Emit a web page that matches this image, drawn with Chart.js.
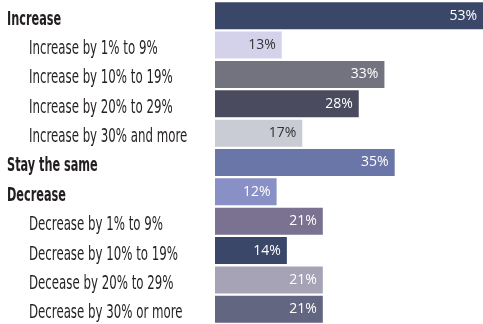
<!DOCTYPE html>
<html>
<head>
<meta charset="utf-8">
<script src="https://cdn.jsdelivr.net/npm/chart.js@4.4.1/dist/chart.umd.min.js"></script>
<style>
  html, body { margin: 0; padding: 0; background: #fff; }
  #wrap { width: 483px; height: 324px; position: relative; }
</style>
</head>
<body>
<div id="wrap"><canvas id="barchart"></canvas></div>
<script>
var categories = ['Increase', 'Increase by 1% to 9%', 'Increase by 10% to 19%', 'Increase by 20% to 29%',
    'Increase by 30% and more', 'Stay the same', 'Decrease', 'Decrease by 1% to 9%',
    'Decrease by 10% to 19%', 'Decease by 20% to 29%', 'Decrease by 30% or more'];
var values = [53, 13, 33, 28, 17, 35, 12, 21, 14, 21, 21];
var headers = [true, false, false, false, false, true, true, false, false, false, false];
var barColors = ['#3b4769', '#d4d2ea', '#72737f', '#4b4b5f', '#c9cbd5', '#6a76a7',
    '#8890c6', '#7a7290', '#3b4769', '#a5a3b5', '#636681'];
var labelColors = ['#fff', '#333', '#fff', '#fff', '#333', '#fff', '#fff', '#fff', '#fff', '#fff', '#fff'];

// left side category text, squeezed to look like the condensed original face
var categoryText = {
    id: 'categoryText',
    afterDraw: function(chart) {
        var ctx = chart.ctx;
        var yScale = chart.scales.y;
        ctx.save();
        ctx.fillStyle = '#231f20';
        ctx.textBaseline = 'middle';
        ctx.textAlign = 'left';
        categories.forEach(function(label, i) {
            var y = yScale.getPixelForTick(i) + 4;
            var x = headers[i] ? 7 : 29;
            ctx.font = (headers[i] ? 'bold ' : '') + '19px "Liberation Sans Narrow", "DejaVu Sans Condensed", sans-serif';
            ctx.save();
            ctx.translate(x, y);
            ctx.scale(headers[i] ? 0.66 : 0.69, 1);
            ctx.fillText(label, 0, 0);
            ctx.restore();
        });
        ctx.restore();
    }
};

// percentage labels inside the bar ends
var valueLabels = {
    id: 'valueLabels',
    afterDatasetsDraw: function(chart) {
        var ctx = chart.ctx;
        var meta = chart.getDatasetMeta(0);
        var right = chart.chartArea.right;
        ctx.save();
        ctx.font = '14px "Open Sans", sans-serif';
        ctx.textAlign = 'right';
        ctx.textBaseline = 'middle';
        meta.data.forEach(function(bar, i) {
            ctx.fillStyle = labelColors[i];
            ctx.fillText(values[i] + '%', Math.min(bar.x, right) - 6, bar.y);
        });
        ctx.restore();
    }
};

var myChart = new Chart(document.getElementById('barchart'), {
    type: 'bar',
    data: {
        labels: categories,
        datasets: [{
            data: values,
            backgroundColor: barColors,
            borderWidth: 0,
            barPercentage: 0.92,
            categoryPercentage: 1
        }]
    },
    options: {
        indexAxis: 'y',
        responsive: true,
        maintainAspectRatio: false,
        animation: false,
        layout: {
            padding: { left: 215, right: 0, top: 1, bottom: 0 }
        },
        scales: {
            x: { display: false, min: 0, max: 52.2 },
            y: { display: false }
        },
        plugins: {
            legend: { display: false },
            tooltip: { enabled: false },
            title: { display: false }
        }
    },
    plugins: [categoryText, valueLabels]
});
</script>
</body>
</html>
